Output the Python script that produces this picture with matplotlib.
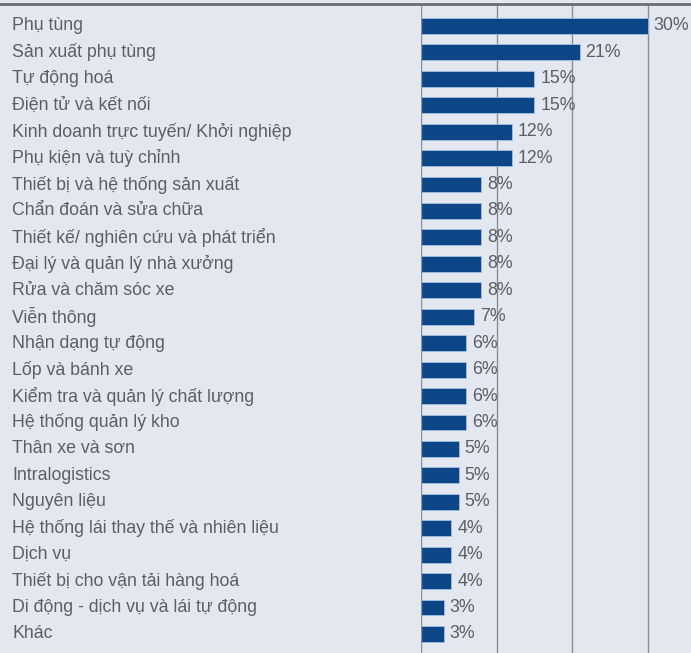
import matplotlib.pyplot as plt
from matplotlib.lines import Line2D

categories = [
    "Phụ tùng", "Sản xuất phụ tùng", "Tự động hoá", "Điện tử và kết nối",
    "Kinh doanh trực tuyến/ Khởi nghiệp", "Phụ kiện và tuỳ chỉnh",
    "Thiết bị và hệ thống sản xuất", "Chẩn đoán và sửa chữa",
    "Thiết kế/ nghiên cứu và phát triển", "Đại lý và quản lý nhà xưởng",
    "Rửa và chăm sóc xe", "Viễn thông", "Nhận dạng tự động", "Lốp và bánh xe",
    "Kiểm tra và quản lý chất lượng", "Hệ thống quản lý kho", "Thân xe và sơn",
    "Intralogistics", "Nguyên liệu", "Hệ thống lái thay thế và nhiên liệu",
    "Dịch vụ", "Thiết bị cho vận tải hàng hoá", "Di động - dịch vụ và lái tự động",
    "Khác",
]
values = [30, 21, 15, 15, 12, 12, 8, 8, 8, 8, 8, 7, 6, 6, 6, 6, 5, 5, 5, 4, 4, 4, 3, 3]
grid_ticks = [10, 20, 30]

BG = "#e3e7ef"
BAR = "#0d4686"
TXT = "#5a5e65"

plt.rcParams['font.family'] = ['Liberation Sans', 'DejaVu Sans']

fig = plt.figure(figsize=(6.91, 6.53), dpi=100, facecolor=BG)
ax = fig.add_axes([421 / 691, 0, 270 / 691, 649 / 653])
ax.set_facecolor(BG)

y = list(range(len(categories)))
ax.barh(y, values, height=0.6, color=BAR, edgecolor="#a8c8ea", linewidth=0.5, zorder=3)

for t in grid_ticks:
    ax.axvline(t, color="#8a8d93", linewidth=1.0, zorder=1)
ax.axvline(0, color="#8a8d93", linewidth=1.0, zorder=4)

for yi, v in zip(y, values):
    ax.text(v + 0.8, yi, f"{v}%", ha="left", va="center", fontsize=12.8,
            color=TXT, zorder=5)

ax.set_xlim(0, 270 / 7.55)
ax.set_ylim(len(categories) - 1 + 0.72, -0.83)
ax.set_xticks([])
ax.set_yticks([])
for s in ax.spines.values():
    s.set_visible(False)

for yi, c in zip(y, categories):
    ax.text(-409 / 7.55, yi, c, ha="left", va="center", fontsize=12.8,
            color=TXT, clip_on=False)

fig.add_artist(Line2D([0, 1], [649 / 653, 649 / 653], transform=fig.transFigure,
                      color="#6b6e73", linewidth=2.0))

fig.savefig("out.png", dpi=100, facecolor=BG)
